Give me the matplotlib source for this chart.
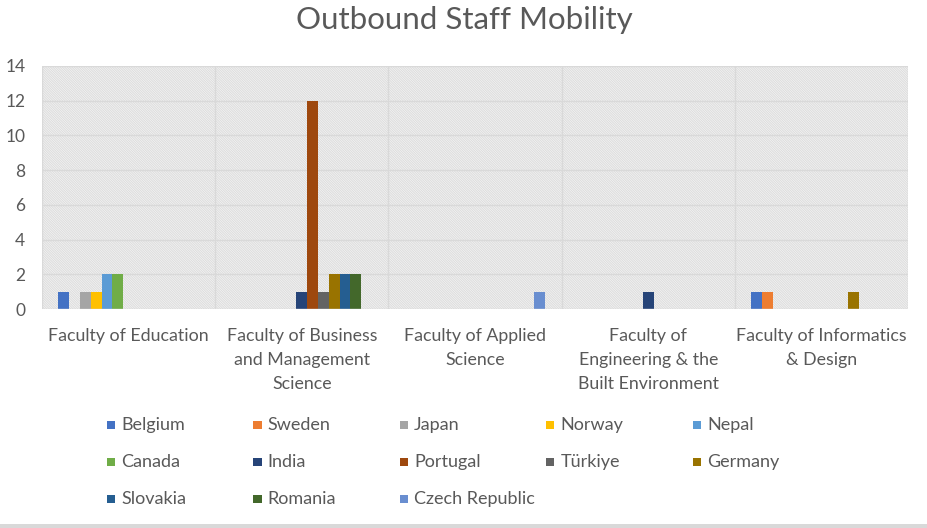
"""
Outbound staff mobility per faculty, clustered bars in the Office style.
"""

##### Imports #####
import numpy as np
import matplotlib
matplotlib.use("Agg")
import matplotlib.pyplot as plt
from matplotlib.patches import Rectangle

##### Data #####
faculties = [
    "Faculty of Education",
    "Faculty of Business\nand Management\nScience",
    "Faculty of Applied\nScience",
    "Faculty of\nEngineering & the\nBuilt Environment",
    "Faculty of Informatics\n& Design",
]
countries = ["Belgium", "Sweden", "Japan", "Norway", "Nepal", "Canada", "India",
             "Portugal", "Türkiye", "Germany", "Slovakia", "Romania", "Czech Republic"]
colors = ["#4472C4", "#ED7D31", "#A5A5A5", "#FFC000", "#5B9BD5", "#70AD47", "#264478",
          "#9E480E", "#636363", "#997300", "#255E91", "#43682B", "#698ED0"]

# one list per country, values across the five faculties
belgium = [1, 0, 0, 0, 1]
sweden = [0, 0, 0, 0, 1]
japan = [1, 0, 0, 0, 0]
norway = [1, 0, 0, 0, 0]
nepal = [2, 0, 0, 0, 0]
canada = [2, 0, 0, 0, 0]
india = [0, 1, 0, 1, 0]
portugal = [0, 12, 0, 0, 0]
turkiye = [0, 1, 0, 0, 0]
germany = [0, 2, 0, 0, 1]
slovakia = [0, 2, 0, 0, 0]
romania = [0, 2, 0, 0, 0]
czech = [0, 0, 1, 0, 0]
values = [belgium, sweden, japan, norway, nepal, canada, india,
          portugal, turkiye, germany, slovakia, romania, czech]

yticks = [0, 2, 4, 6, 8, 10, 12, 14]

##### Style #####
txt_color = "#595959"
grid_color = "#D9D9D9"
plt.rcParams["font.family"] = ["Lato", "DejaVu Sans"]
plt.rcParams["hatch.linewidth"] = 0.9

W, H = 928, 528
fig = plt.figure(figsize=(W / 100, H / 100), dpi=100)
ax = fig.add_axes([42 / W, 1 - 309 / H, 866 / W, 243 / H])

# hatched plot area background
ax.add_patch(Rectangle((0, 0), 1, 1, transform=ax.transAxes, facecolor="white",
                       edgecolor="#DEDEDE", linewidth=0, hatch="\\" * 14, zorder=0))

x = np.arange(len(faculties))
n = len(countries)
bar_w = 10.8 / 173.2
for i, (name, vals) in enumerate(zip(countries, values)):
    offs = (i - (n - 1) / 2) * bar_w
    ax.bar(x + offs, vals, width=bar_w, color=colors[i], label=name, zorder=3)

ax.set_xlim(-0.5, len(faculties) - 0.5)
ax.set_ylim(0, 14)
ax.set_yticks(yticks)
ax.set_yticklabels([str(t) for t in yticks], fontsize=12.5, color=txt_color)
ax.set_xticks(x)
ax.set_xticklabels(faculties, fontsize=12.8, color=txt_color, linespacing=1.58, va="top")
ax.tick_params(axis="both", length=0)
ax.tick_params(axis="y", pad=12)
ax.tick_params(axis="x", pad=14)

# gridlines: horizontal at ticks, vertical between categories
for yv in yticks[1:]:
    ax.axhline(yv, color=grid_color, linewidth=1, zorder=1)
for xv in np.arange(-0.5, len(faculties), 1.0):
    ax.axvline(xv, color=grid_color, linewidth=1, zorder=1)
for s in ax.spines.values():
    s.set_visible(False)
ax.axhline(0, color=grid_color, linewidth=1, zorder=4)

fig.text(0.5, 1 - 20 / H, "Outbound Staff Mobility", ha="center", va="center",
         fontsize=22.5, color=txt_color)

##### Legend, drawn as an Excel style grid #####
for i, name in enumerate(countries):
    row, col = divmod(i, 5)
    lx = (107 + 146.5 * col) / W
    ly = 1 - (425 + 37 * row) / H
    fig.patches.append(Rectangle((lx, ly - 4 / H), 8 / W, 8 / H, transform=fig.transFigure,
                                 facecolor=colors[i], edgecolor="none"))
    fig.text(lx + 14 / W, ly, name, ha="left", va="center", fontsize=13, color=txt_color)

# thin grey band along the bottom edge
fig.patches.append(Rectangle((0, 0), 1, 4 / H, transform=fig.transFigure,
                             facecolor="#D9D9D9", edgecolor="none"))

plt.savefig("out.png", dpi=100)
